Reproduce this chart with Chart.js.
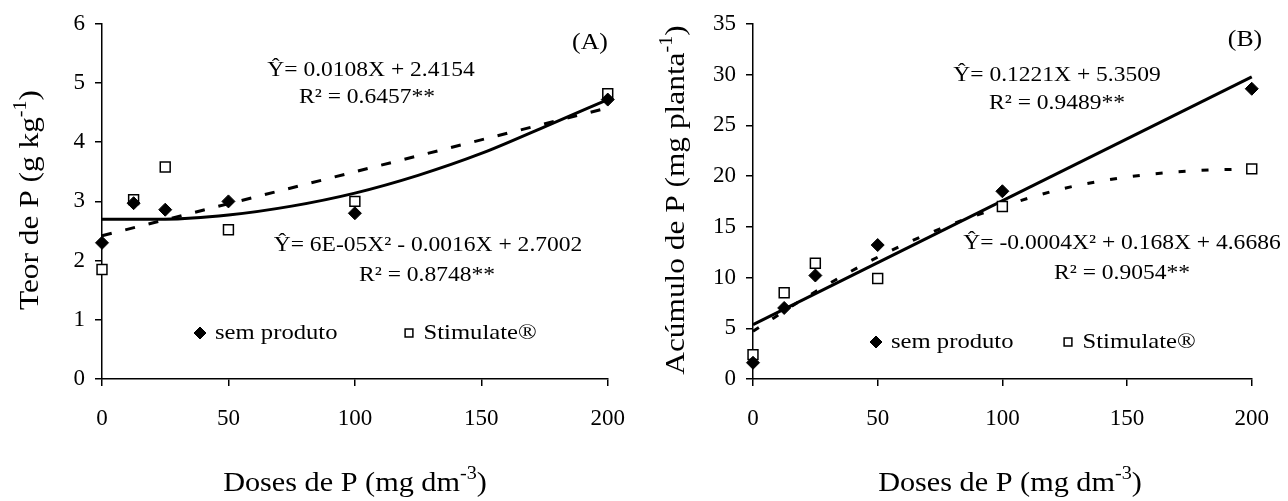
<!DOCTYPE html>
<html>
<head>
<meta charset="utf-8">
<script src="https://cdn.jsdelivr.net/npm/chart.js@4.4.1/dist/chart.umd.min.js"></script>
<style>
  html, body { margin: 0; padding: 0; background: #fff; }
  #wrap { position: relative; width: 1288px; height: 501px; }
  .box { position: absolute; top: 0; width: 644px; height: 501px; }
</style>
</head>
<body>
<div id="wrap">
  <div class="box" style="left:0"><canvas id="chartA" width="644" height="501"></canvas></div>
  <div class="box" style="left:644px"><canvas id="chartB" width="644" height="501"></canvas></div>
</div>
<script>
// doses de P (mg dm-3)
const doses = [0, 12.5, 25, 50, 100, 200];
const xTicks = [0, 50, 100, 150, 200];

// (A) teor de P (g kg-1)
const teorSem = [2.3, 2.97, 2.86, 3.0, 2.8, 4.72];
const teorStim = [1.85, 3.03, 3.58, 2.52, 3.0, 4.82];
const teorTicks = [0, 1, 2, 3, 4, 5, 6];

// (B) acumulo de P (mg planta-1)
const acumSem = [1.6, 7.0, 10.2, 13.2, 18.5, 28.6];
const acumStim = [2.4, 8.5, 11.4, 9.9, 17.0, 20.7];
const acumTicks = [0, 5, 10, 15, 20, 25, 30, 35];

// trend lines
const curveX = [0, 25, 50, 75, 100, 125, 150, 175, 200];
const lineX = [0, 200];
const teorFitQuad = [2.70, 2.70, 2.77, 2.92, 3.14, 3.44, 3.81, 4.26, 4.72];
const teorFitLin = [2.42, 4.58];
const acumFitLin = [5.35, 29.77];
const acumFitQuad = [4.7, 8.6, 12.0, 14.8, 17.0, 18.8, 19.9, 20.5, 20.7];

const SERIF = '"Liberation Serif", "Times New Roman", serif';
const SX = 1.12; // the original text is a bit wide

function pts(xs, ys) {
    return xs.map((x, i) => ({ x: x, y: ys[i] }));
}

// draws text made of [string, isSuperscript] pieces
function drawRich(ctx, segs, x, y, size, align, rotate) {
    ctx.save();
    ctx.translate(x, y);
    if (rotate) ctx.rotate(-Math.PI / 2);
    ctx.scale(SX, 1);
    ctx.fillStyle = '#000';
    ctx.textBaseline = 'middle';
    ctx.textAlign = 'left';
    let w = 0;
    segs.forEach(s => {
        ctx.font = (s[1] ? Math.round(size * 0.65) : size) + 'px ' + SERIF;
        w += ctx.measureText(s[0]).width;
    });
    let cx = align === 'center' ? -w / 2 : (align === 'right' ? -w : 0);
    segs.forEach(s => {
        ctx.font = (s[1] ? Math.round(size * 0.65) : size) + 'px ' + SERIF;
        ctx.fillText(s[0], cx, s[1] ? -size * 0.36 : 0);
        cx += ctx.measureText(s[0]).width;
    });
    ctx.restore();
}

const textPlugin = {
    id: 'texts',
    afterDraw(chart, args, opts) {
        const ctx = chart.ctx;
        opts.items.forEach(t => drawRich(ctx, t.segs, t.x, t.y, t.size, t.align || 'center', t.rotate));
        // legend, built from the point datasets
        opts.legend.forEach(l => {
            const ds = chart.data.datasets[l.ds];
            ctx.save();
            ctx.fillStyle = ds.backgroundColor;
            ctx.strokeStyle = ds.borderColor;
            ctx.lineWidth = ds.borderWidth;
            Chart.helpers.drawPoint(ctx, { pointStyle: ds.pointStyle, radius: l.r, borderWidth: ds.borderWidth, rotation: 0 }, l.x, l.y);
            ctx.restore();
            drawRich(ctx, [[ds.label, false]], l.x + l.r + 9, l.y, 22, 'left');
        });
    }
};

function axis(min, max, ticks, fit, padding) {
    return {
        type: 'linear',
        min: min,
        max: max,
        afterBuildTicks: s => { s.ticks = ticks.map(v => ({ value: v })); },
        afterFit: fit,
        ticks: { color: '#000', font: { family: SERIF, size: 23 }, padding: padding },
        grid: { display: true, drawOnChartArea: false, drawTicks: true, tickLength: 7, color: '#000', lineWidth: 1.5 },
        border: { display: true, color: '#000', width: 1.5 }
    };
}

function makeChart(id, cfg) {
    const datasets = [
        {
            label: 'sem produto', data: pts(doses, cfg.sem), pointStyle: 'rectRot', pointRadius: 6.5,
            backgroundColor: '#000', borderColor: '#000', borderWidth: 1, showLine: false, clip: false
        },
        {
            label: 'Stimulate®', data: pts(doses, cfg.stim), pointStyle: 'rect', pointRadius: 7,
            backgroundColor: '#fff', borderColor: '#000', borderWidth: 1.5, showLine: false, clip: false
        },
        {
            label: 'fit1', data: cfg.solid, showLine: true, pointRadius: 0, borderColor: '#000',
            borderWidth: 3, cubicInterpolationMode: 'monotone', clip: false
        },
        {
            label: 'fit2', data: cfg.dashed, showLine: true, pointRadius: 0, borderColor: '#000',
            borderWidth: 3, borderDash: cfg.dash, cubicInterpolationMode: 'monotone', clip: false
        }
    ];
    return new Chart(document.getElementById(id), {
        type: 'scatter',
        data: { datasets: datasets },
        plugins: [textPlugin],
        options: {
            responsive: false,
            animation: false,
            devicePixelRatio: 1,
            layout: { padding: { top: 20, right: cfg.padRight, left: 0, bottom: 0 } },
            plugins: {
                legend: { display: false },
                tooltip: { enabled: false },
                texts: { items: cfg.texts, legend: cfg.legend }
            },
            scales: {
                x: axis(0, 200, xTicks, s => { s.height = 122; }, 19),
                y: axis(cfg.ymin, cfg.ymax, cfg.yTicks, s => { s.width = cfg.yWidth; }, 10)
            }
        }
    });
}

makeChart('chartA', {
    sem: teorSem, stim: teorStim,
    solid: pts(curveX, teorFitQuad),
    dashed: pts(lineX, teorFitLin),
    dash: [10, 14],
    ymin: 0, ymax: 6, yTicks: teorTicks, yWidth: 102, padRight: 32,
    texts: [
        { segs: [['Teor de P (g kg', false], ['-1', true], [')', false]], x: 31, y: 200, size: 28, rotate: true },
        { segs: [['Doses de P (mg dm', false], ['-3', true], [')', false]], x: 355, y: 484, size: 27 },
        { segs: [['Ŷ= 0.0108X + 2.4154', false]], x: 371, y: 70, size: 21 },
        { segs: [['R² = 0.6457**', false]], x: 367, y: 97, size: 21 },
        { segs: [['Ŷ= 6E-05X² - 0.0016X + 2.7002', false]], x: 428, y: 245, size: 21 },
        { segs: [['R² = 0.8748**', false]], x: 427, y: 275, size: 21 },
        { segs: [['(A)', false]], x: 590, y: 43, size: 23 }
    ],
    legend: [
        { ds: 0, x: 200, y: 333, r: 6 },
        { ds: 1, x: 409, y: 333, r: 5.5 }
    ]
});

makeChart('chartB', {
    sem: acumSem, stim: acumStim,
    solid: pts(lineX, acumFitLin),
    dashed: pts(curveX, acumFitQuad),
    dash: [7, 16],
    ymin: 0, ymax: 35, yTicks: acumTicks, yWidth: 109, padRight: 24,
    texts: [
        { segs: [['Acúmulo de P (mg planta', false], ['-1', true], [')', false]], x: 33, y: 200, size: 28, rotate: true },
        { segs: [['Doses de P (mg dm', false], ['-3', true], [')', false]], x: 366, y: 484, size: 27 },
        { segs: [['Ŷ= 0.1221X + 5.3509', false]], x: 413, y: 75, size: 21 },
        { segs: [['R² = 0.9489**', false]], x: 413, y: 103, size: 21 },
        { segs: [['Ŷ= -0.0004X² + 0.168X + 4.6686', false]], x: 478, y: 243, size: 21 },
        { segs: [['R² = 0.9054**', false]], x: 478, y: 273, size: 21 },
        { segs: [['(B)', false]], x: 601, y: 40, size: 23 }
    ],
    legend: [
        { ds: 0, x: 232, y: 342, r: 6 },
        { ds: 1, x: 424, y: 342, r: 5.5 }
    ]
});
</script>
</body>
</html>
